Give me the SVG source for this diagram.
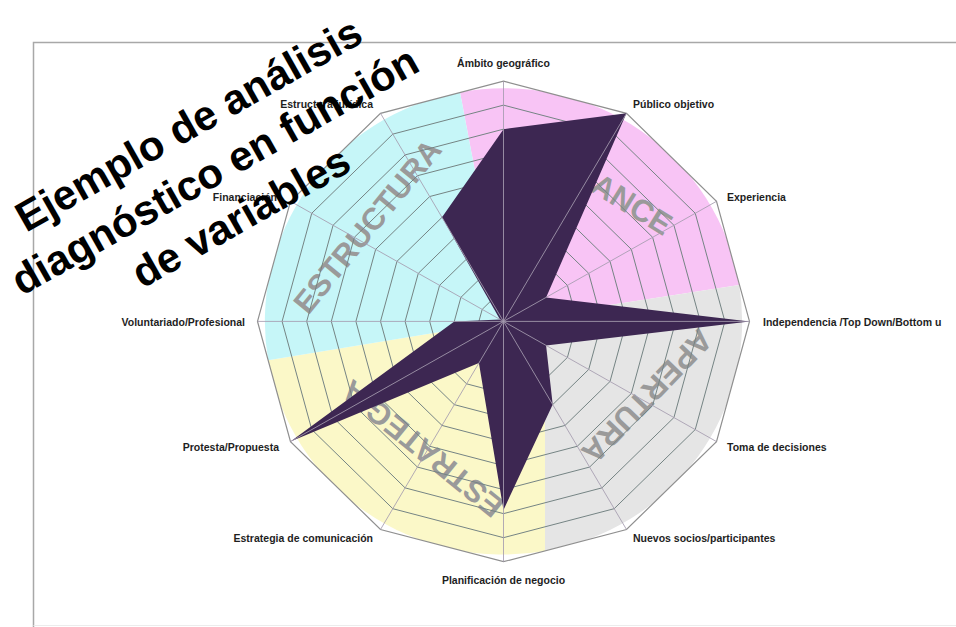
<svg xmlns="http://www.w3.org/2000/svg" width="956" height="627" viewBox="0 0 956 627">
<style>
.lbl{font-family:"Liberation Sans",Arial,sans-serif;font-weight:bold;font-size:10.5px;fill:#1e1e1e}
.sec{font-family:"Liberation Sans",Arial,sans-serif;font-weight:bold;font-size:31px;fill:#9a9a9a;text-anchor:middle}
.title{font-family:"Liberation Sans",Arial,sans-serif;font-weight:bold;font-size:42px;fill:#000;text-anchor:middle}
.ring{fill:none;stroke:#758484;stroke-width:1;vector-effect:non-scaling-stroke}
.outer{fill:none;stroke:#8f8f8f;stroke-width:1.2}
.spoke{stroke:#a69db0;stroke-width:1;opacity:0.85}
</style>
<defs>
<clipPath id="clipOuter">
<polygon points="503.5,81.1 626.5,113.3 716.5,201.3 749.5,321.4 716.5,441.6 626.5,529.5 503.5,561.7 380.5,529.5 290.5,441.6 257.5,321.4 290.5,201.3 380.5,113.3"/>
</clipPath>
</defs>
<rect width="956" height="627" fill="#ffffff"/>
<g id="frame" fill="none" stroke="#a8a8a8" stroke-width="1.5">
<path d="M956,42.5 H33.5 V627"/>
<path d="M33.5,625.5 H956" stroke="#ececec" stroke-width="1"/>
</g>
<g id="sectors" clip-path="url(#clipOuter)">
<path id="sector-alcance" d="M503.5,321.4 L460,92.2 A238.6,233.1 0 0 1 739.2,284.9 Z" fill="#f8c4f5"/>
<path id="sector-apertura" d="M503.5,321.4 L739.2,284.9 A238.6,233.1 0 0 1 545,551 L545,400 Z" fill="#e5e5e5"/>
<path id="sector-estrategia" d="M545,400 L545,551 A238.6,233.1 0 0 1 268.2,360.3 L503.5,321.4 Z" fill="#fbf8c8"/>
<path id="sector-estructura" d="M503.5,321.4 L268.2,360.3 A238.6,233.1 0 0 1 460,92.2 Z" fill="#c6f6f8"/>
</g>
<g id="section-labels">
<text class="sec" transform="translate(375.7,233.1) rotate(-50.8)">ESTRUCTURA</text>
<text class="sec" transform="translate(599.1,196.5) rotate(31.8)">ALCANCE</text>
<text class="sec" transform="translate(639.4,388.7) rotate(134)">APERTURA</text>
<text class="sec" transform="translate(429,440.3) rotate(219)">ESTRATEGIA</text>
</g>
<g id="grid">
<g transform="translate(503.5 321.4)">
<polygon class="ring" transform="scale(0.1)" points="0,-240.3 123,-208.1 213.04,-120.15 246,0 213.04,120.15 123,208.1 0,240.3 -123,208.1 -213.04,120.15 -246,0 -213.04,-120.15 -123,-208.1"/>
<polygon class="ring" transform="scale(0.2)" points="0,-240.3 123,-208.1 213.04,-120.15 246,0 213.04,120.15 123,208.1 0,240.3 -123,208.1 -213.04,120.15 -246,0 -213.04,-120.15 -123,-208.1"/>
<polygon class="ring" transform="scale(0.3)" points="0,-240.3 123,-208.1 213.04,-120.15 246,0 213.04,120.15 123,208.1 0,240.3 -123,208.1 -213.04,120.15 -246,0 -213.04,-120.15 -123,-208.1"/>
<polygon class="ring" transform="scale(0.4)" points="0,-240.3 123,-208.1 213.04,-120.15 246,0 213.04,120.15 123,208.1 0,240.3 -123,208.1 -213.04,120.15 -246,0 -213.04,-120.15 -123,-208.1"/>
<polygon class="ring" transform="scale(0.5)" points="0,-240.3 123,-208.1 213.04,-120.15 246,0 213.04,120.15 123,208.1 0,240.3 -123,208.1 -213.04,120.15 -246,0 -213.04,-120.15 -123,-208.1"/>
<polygon class="ring" transform="scale(0.6)" points="0,-240.3 123,-208.1 213.04,-120.15 246,0 213.04,120.15 123,208.1 0,240.3 -123,208.1 -213.04,120.15 -246,0 -213.04,-120.15 -123,-208.1"/>
<polygon class="ring" transform="scale(0.7)" points="0,-240.3 123,-208.1 213.04,-120.15 246,0 213.04,120.15 123,208.1 0,240.3 -123,208.1 -213.04,120.15 -246,0 -213.04,-120.15 -123,-208.1"/>
<polygon class="ring" transform="scale(0.8)" points="0,-240.3 123,-208.1 213.04,-120.15 246,0 213.04,120.15 123,208.1 0,240.3 -123,208.1 -213.04,120.15 -246,0 -213.04,-120.15 -123,-208.1"/>
<polygon class="ring" transform="scale(0.9)" points="0,-240.3 123,-208.1 213.04,-120.15 246,0 213.04,120.15 123,208.1 0,240.3 -123,208.1 -213.04,120.15 -246,0 -213.04,-120.15 -123,-208.1"/>
</g>
<polygon class="outer" points="503.5,81.1 626.5,113.3 716.5,201.3 749.5,321.4 716.5,441.6 626.5,529.5 503.5,561.7 380.5,529.5 290.5,441.6 257.5,321.4 290.5,201.3 380.5,113.3"/>
</g>
<g id="data">
<polygon points="503.5,129.2 626.5,113.3 546.1,297.4 749.5,321.4 546.1,345.4 552.7,404.6 503.5,510 478.9,363 290.5,441.6 454.3,321.4 500,319.4 442,217.3" fill="#3d2752"/>
</g>
<g id="connectors">
<line class="spoke" x1="503.5" y1="321.4" x2="503.5" y2="81.1"/>
<line class="spoke" x1="503.5" y1="321.4" x2="626.5" y2="113.3"/>
<line class="spoke" x1="503.5" y1="321.4" x2="716.5" y2="201.3"/>
<line class="spoke" x1="503.5" y1="321.4" x2="749.5" y2="321.4"/>
<line class="spoke" x1="503.5" y1="321.4" x2="716.5" y2="441.6"/>
<line class="spoke" x1="503.5" y1="321.4" x2="626.5" y2="529.5"/>
<line class="spoke" x1="503.5" y1="321.4" x2="503.5" y2="561.7"/>
<line class="spoke" x1="503.5" y1="321.4" x2="380.5" y2="529.5"/>
<line class="spoke" x1="503.5" y1="321.4" x2="290.5" y2="441.6"/>
<line class="spoke" x1="503.5" y1="321.4" x2="257.5" y2="321.4"/>
<line class="spoke" x1="503.5" y1="321.4" x2="290.5" y2="201.3"/>
<line class="spoke" x1="503.5" y1="321.4" x2="380.5" y2="113.3"/>
</g>
<g id="axis-labels">
<g id="lbl-ambito"><text class="lbl" x="503.5" y="67" text-anchor="middle">Ámbito geográfico</text></g>
<g id="lbl-publico"><text class="lbl" x="633" y="108">Público objetivo</text></g>
<g id="lbl-experiencia"><text class="lbl" x="727" y="201">Experiencia</text></g>
<g id="lbl-independencia"><text class="lbl" x="763" y="326">Independencia /Top Down/Bottom u</text></g>
<g id="lbl-toma"><text class="lbl" x="727" y="451">Toma de decisiones</text></g>
<g id="lbl-nuevos"><text class="lbl" x="633" y="542">Nuevos socios/participantes</text></g>
<g id="lbl-planificacion"><text class="lbl" x="503.5" y="584" text-anchor="middle">Planificación de negocio</text></g>
<g id="lbl-estrategia"><text class="lbl" x="373" y="542" text-anchor="end">Estrategia de comunicación</text></g>
<g id="lbl-protesta"><text class="lbl" x="279" y="451" text-anchor="end">Protesta/Propuesta</text></g>
<g id="lbl-voluntariado"><text class="lbl" x="245" y="326" text-anchor="end">Voluntariado/Profesional</text></g>
<g id="lbl-financiacion"><text class="lbl" x="277" y="201" text-anchor="end">Financiación</text></g>
<g id="lbl-estructura"><text class="lbl" x="373" y="108" text-anchor="end">Estructura jurídica</text></g>
</g>
<g id="title" transform="translate(195.7,137) rotate(-29.5)">
<text class="title" x="0" y="0">Ejemplo de análisis</text>
<text class="title" x="0" y="53">diagnóstico en función</text>
<text class="title" x="0" y="106">de variables</text>
</g>
</svg>
